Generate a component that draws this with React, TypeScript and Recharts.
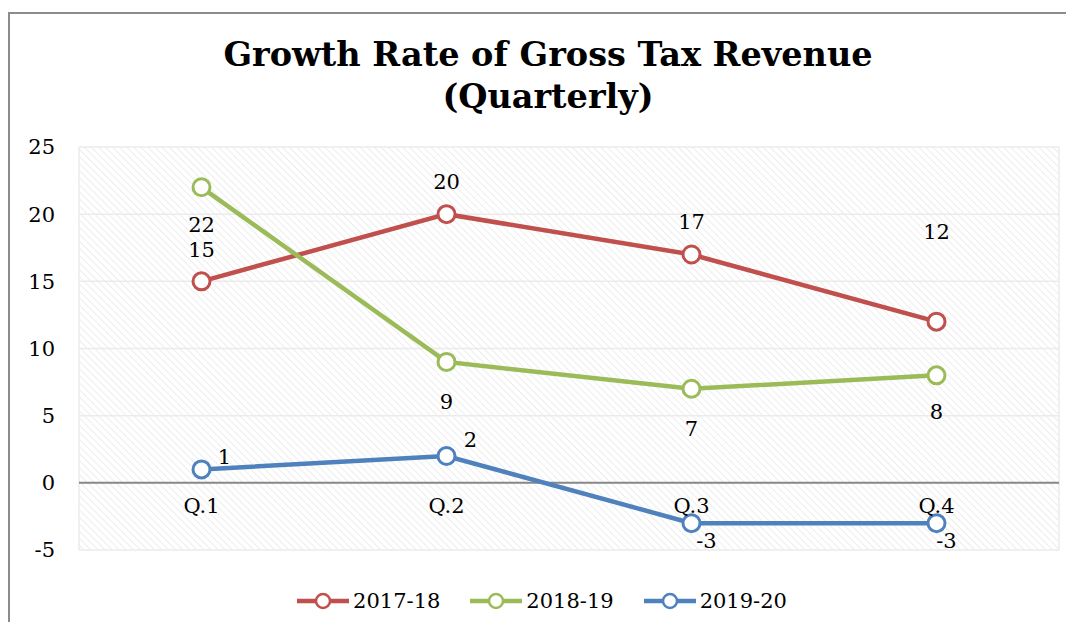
import {
  LineChart,
  Line,
  XAxis,
  YAxis,
  CartesianGrid,
  ReferenceLine,
  ReferenceDot,
  LabelList,
} from "recharts";

const quarters = ["Q.1", "Q.2", "Q.3", "Q.4"];
const fy1718 = [15, 20, 17, 12];
const fy1819 = [22, 9, 7, 8];
const fy1920 = [1, 2, -3, -3];
const yTicks = [-5, 0, 5, 10, 15, 20, 25];
const xTicks = [0, 0.5, 1, 1.5, 2, 2.5, 3, 3.5, 4];

const rows = quarters.map((q, i) => ({
  pos: i + 0.5,
  q,
  a: fy1718[i],
  b: fy1819[i],
  c: fy1920[i],
}));

const FONT = "'DejaVu Serif', Georgia, serif";

// label nudges (px) per point, copied by eye from the original
const series = [
  { key: "a", name: "2017-18", color: "#C0504D", dx: [0, 0, 0, 0], dy: [-31, -32, -32, -90] },
  { key: "b", name: "2018-19", color: "#9BBB59", dx: [0, 0, 0, 0], dy: [38, 40, 40, 37] },
  { key: "c", name: "2019-20", color: "#4F81BD", dx: [23, 24, 15, 10], dy: [-12, -16, 18, 18] },
];

const makeLabel = (dx: number[], dy: number[]) => (p: any) => {
  const i = p.index ?? 0;
  return (
    <text
      x={p.x + dx[i]}
      y={p.y + dy[i]}
      textAnchor="middle"
      dominantBaseline="central"
      fontFamily={FONT}
      fontSize={21}
      fill="#000"
    >
      {p.value}
    </text>
  );
};

export default function App() {
  return (
    <div
      style={{
        position: "relative",
        width: 1066,
        height: 622,
        marginBottom: -8,
        overflow: "hidden",
      }}
    >
      <div
        style={{
          position: "absolute",
          left: 0,
          top: 4,
          width: 1066,
          height: 618,
          borderLeft: "2px solid #8c8c8c",
          borderTop: "2px solid #8c8c8c",
          boxSizing: "border-box",
        }}
      />
      <div
        style={{
          position: "absolute",
          left: 0,
          top: 26,
          width: 1080,
          textAlign: "center",
          fontFamily: FONT,
          fontWeight: "bold",
          fontSize: 33.5,
          lineHeight: "42px",
          color: "#000",
        }}
      >
        Growth Rate of Gross Tax Revenue
        <br />
        (Quarterly)
      </div>
      <LineChart
        width={1066}
        height={622}
        data={rows}
        margin={{ top: 139, right: 15, left: 0, bottom: 80 }}
        style={{ position: "absolute", left: 0, top: 0 }}
      >
        <defs>
          <pattern
            id="hatch"
            width="5"
            height="5"
            patternUnits="userSpaceOnUse"
            patternTransform="rotate(-45)"
          >
            <line x1="0" y1="0" x2="0" y2="5" stroke="#ededed" strokeWidth="2" />
          </pattern>
        </defs>
        <CartesianGrid stroke="#ebebeb" strokeWidth={1.5} fill="url(#hatch)" fillOpacity={1} />
        <XAxis
          dataKey="pos"
          type="number"
          domain={[0, 4]}
          ticks={xTicks}
          height={0}
          tick={false}
          axisLine={false}
          tickLine={false}
        />
        <YAxis
          type="number"
          domain={[-5, 25]}
          ticks={yTicks}
          width={71}
          axisLine={false}
          tickLine={false}
          tickMargin={18}
          tick={{ fontFamily: FONT, fontSize: 21, fill: "#000" }}
        />
        <ReferenceLine y={0} stroke="#888" strokeWidth={2} />
        {rows.map((r) => (
          <ReferenceDot
            key={r.q}
            x={r.pos}
            y={0}
            r={0}
            stroke="none"
            label={{
              value: r.q,
              position: "bottom",
              offset: 15,
              fontFamily: FONT,
              fontSize: 21,
              fill: "#000",
            }}
          />
        ))}
        {series.map((s) => (
          <Line
            key={s.key}
            dataKey={s.key}
            name={s.name}
            stroke={s.color}
            strokeWidth={4.5}
            dot={{ r: 8.5, fill: "#fff", stroke: s.color, strokeWidth: 3 }}
            activeDot={false}
            isAnimationActive={false}
          >
            <LabelList dataKey={s.key} content={makeLabel(s.dx, s.dy)} />
          </Line>
        ))}
      </LineChart>
      <div
        style={{
          position: "absolute",
          left: 0,
          top: 581,
          width: 1068,
          display: "flex",
          justifyContent: "center",
          gap: 30,
          fontFamily: FONT,
          fontSize: 21,
        }}
      >
        {series.map((s) => (
          <div key={s.key} style={{ display: "flex", alignItems: "center", gap: 4 }}>
            <svg width={52} height={20}>
              <line x1={0} y1={10} x2={52} y2={10} stroke={s.color} strokeWidth={4.5} />
              <circle cx={26} cy={10} r={7} fill="#fff" stroke={s.color} strokeWidth={2.5} />
            </svg>
            <span>{s.name}</span>
          </div>
        ))}
      </div>
    </div>
  );
}
